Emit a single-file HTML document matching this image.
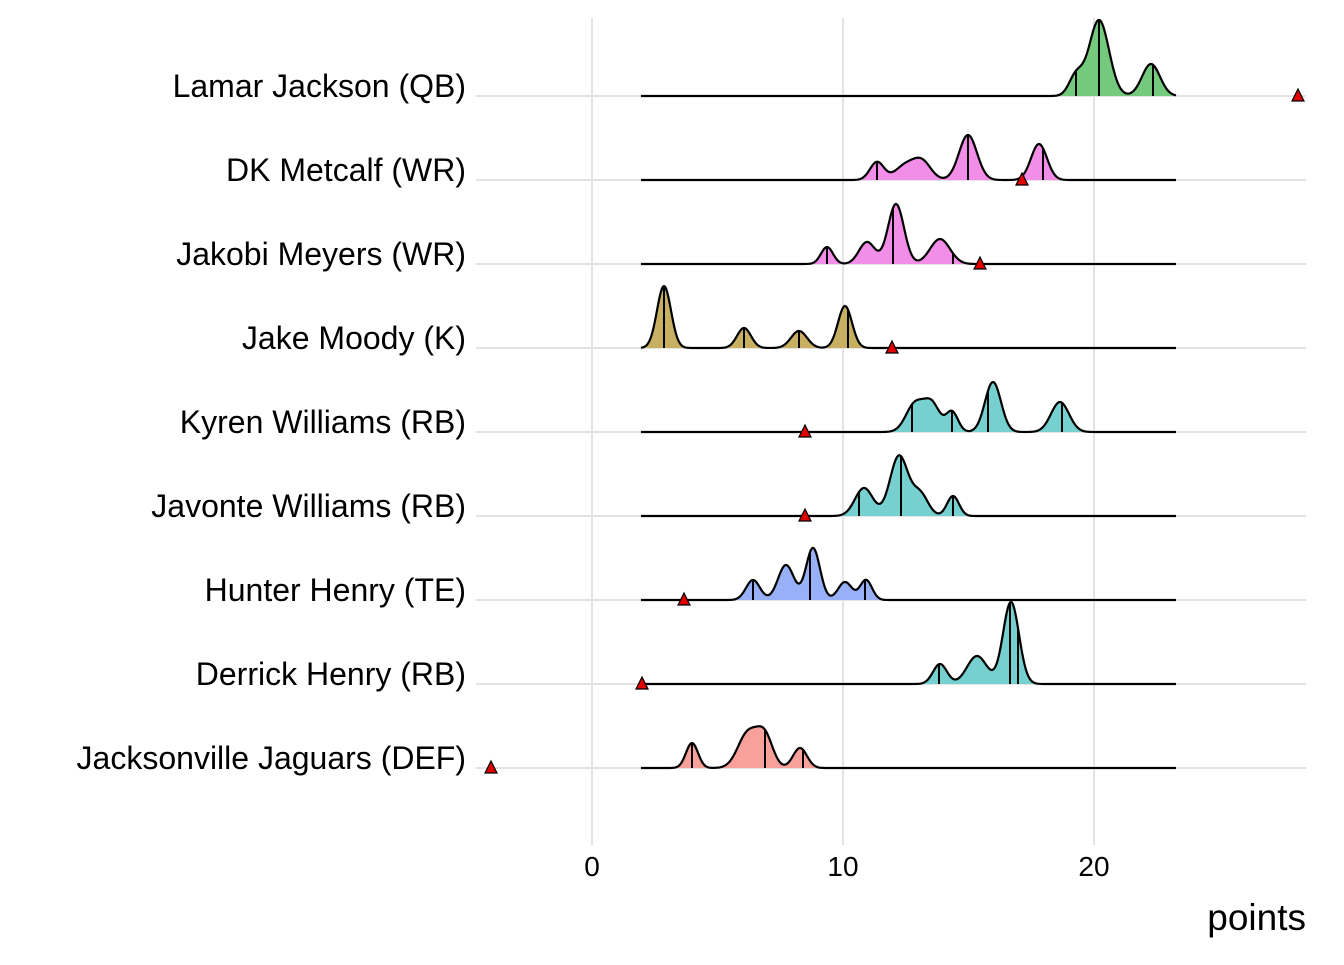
<!DOCTYPE html>
<html><head><meta charset="utf-8"><style>
html,body{margin:0;padding:0;background:#fff;}
svg text{font-family:"Liberation Sans",Arial,sans-serif;fill:#000;}
</style></head><body>
<svg id="s" width="1344" height="960" viewBox="0 0 1344 960" xmlns="http://www.w3.org/2000/svg">
<g stroke="#e3e3e3" stroke-width="2">
<line x1="592" y1="18" x2="592" y2="845"/><line x1="843" y1="18" x2="843" y2="845"/><line x1="1094" y1="18" x2="1094" y2="845"/>
<line x1="476" y1="96" x2="1306" y2="96"/><line x1="476" y1="180" x2="1306" y2="180"/><line x1="476" y1="264" x2="1306" y2="264"/>
<line x1="476" y1="348" x2="1306" y2="348"/><line x1="476" y1="432" x2="1306" y2="432"/><line x1="476" y1="516" x2="1306" y2="516"/>
<line x1="476" y1="600" x2="1306" y2="600"/><line x1="476" y1="684" x2="1306" y2="684"/><line x1="476" y1="768" x2="1306" y2="768"/>
</g>
<g id="ridges"></g>
<g font-size="32" text-anchor="end">
<text x="466" y="97">Lamar Jackson (QB)</text>
<text x="466" y="181">DK Metcalf (WR)</text>
<text x="466" y="265">Jakobi Meyers (WR)</text>
<text x="466" y="349">Jake Moody (K)</text>
<text x="466" y="433">Kyren Williams (RB)</text>
<text x="466" y="517">Javonte Williams (RB)</text>
<text x="466" y="601">Hunter Henry (TE)</text>
<text x="466" y="685">Derrick Henry (RB)</text>
<text x="466" y="769">Jacksonville Jaguars (DEF)</text>
</g>
<g font-size="28" text-anchor="middle" fill="#333">
<text x="592" y="876">0</text><text x="843" y="876">10</text><text x="1094" y="876">20</text>
</g>
<text x="1306" y="930" font-size="37" text-anchor="end">points</text>
</svg>
<script>
var R=[
[96,"#74c97c",[[1076,20,7],[1099,76,10],[1151,32,9]],[1076,1099,1153],1298],
[180,"#f28ee8",[[877,18,7],[905,14,10],[922,18,9],[968,45,9],[1039,36,8]],[877,968,1043],1022],
[264,"#f28ee8",[[827,17,6],[867,22,8],[896,60,8],[940,25,10]],[827,893,953],980],
[348,"#c8b062",[[664,62,7],[744,20,7],[799,17,8],[845,42,7]],[664,744,799,848],892],
[432,"#76d0d0",[[915,28,9],[932,27,8],[952,20,6],[993,50,8],[1060,30,9]],[912,952,988,1062],805],
[516,"#76d0d0",[[864,28,9],[899,60,9],[920,22,8],[953,20,6]],[859,901,953],805],
[600,"#98b0f8",[[753,20,7],[786,35,8],[813,52,7],[845,18,7],[866,20,6]],[753,810,865],684],
[684,"#76d0d0",[[940,20,7],[977,28,10],[1011,82,8]],[939,1010,1018],642],
[768,"#f8a19b",[[692,25,6],[748,35,10],[765,30,8],[800,20,7]],[692,765,803],491]];
var g=document.getElementById("ridges"),h="";
function f(x,p){var s=0;for(var i=0;i<p.length;i++){var d=(x-p[i][0])/p[i][2];s+=p[i][1]*Math.exp(-0.5*d*d);}return s;}
R.forEach(function(r){var b=r[0],p=r[2],pts=[];
for(var x=641;x<=1176;x+=1)pts.push(x+","+(b-f(x,p)).toFixed(2));
h+='<path d="M641,'+b+' L'+pts.join(' L')+' L1176,'+b+' Z" fill="'+r[1]+'" stroke="none"/>';
r[3].forEach(function(q){h+='<line x1="'+q+'" y1="'+b+'" x2="'+q+'" y2="'+(b-f(q,p)).toFixed(2)+'" stroke="#000" stroke-width="2"/>';});
h+='<polyline points="'+pts.join(' ')+'" fill="none" stroke="#000" stroke-width="2.2"/>';
var t=r[4];h+='<polygon points="'+(t-6)+','+(b+5)+' '+(t+6)+','+(b+5)+' '+t+','+(b-7)+'" fill="#e00000" stroke="#000" stroke-width="1.2"/>';
});
g.innerHTML=h;
</script>
</body></html>
